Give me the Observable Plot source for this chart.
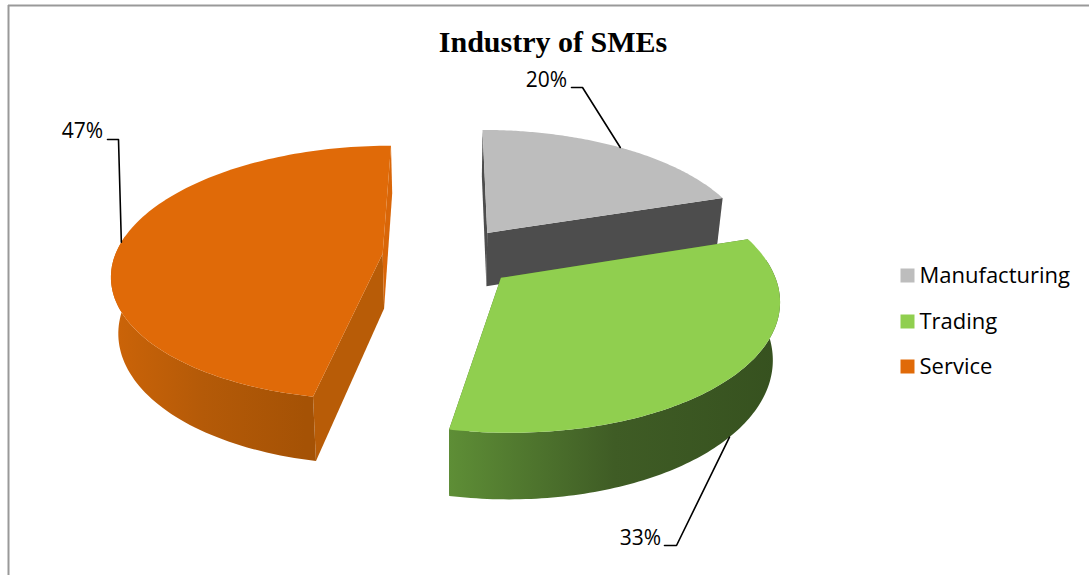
<!DOCTYPE html>
<html>
<head>
<meta charset="utf-8">
<title>Industry of SMEs</title>
<script src="https://cdn.jsdelivr.net/npm/d3@7"></script>
<script src="https://cdn.jsdelivr.net/npm/@observablehq/plot@0.6"></script>
<style>
  html, body { margin: 0; padding: 0; background: #fff; }
  svg { display: block; }
</style>
</head>
<body>
<div id="chart"></div>
<script>
// Chart values
const chartTitle = "Industry of SMEs";
const categories = ["Manufacturing", "Trading", "Service"];
const shares = [20, 33, 47];

// Slice colours: top face, inner walls, rim gradient stops
const topColors = ["#bdbdbd", "#90cf4f", "#e06a08"];
const wallColors = ["#4d4d4d", "#4a6f2a", "#b85c07"];
const rimStops = [
  [[0, "#4d4d4d"], [1, "#4d4d4d"]],
  [[0, "#5e8e36"], [0.5, "#3f5c25"], [1, "#36511f"]],
  [[0, "#cc6408"], [0.45, "#b45a08"], [0.95, "#a55205"], [1, "#a55205"]]
];

// Camera and pie geometry for the tilted, exploded pie
const W = 1089, H = 575;
const cam = {cx: 450, cy: 257, rx: 268, ry: 125, k: 0.15, depth: 55, shrink: 0.022};
const explode = 0.24;
const startAngle = 0;
const sliceNudge = [{dx: 0, dy: -1}, {dx: 1, dy: 0}, {dx: -4, dy: -1}];
// Only the part of the rim facing the viewer is drawn
const rimFacing = -0.15;

// Projects a point on the pie plane; z is 0 on the top face and 1 on the bottom face
function project(X, Y, z, nudge) {
  const s = 1 / (1 - cam.k * Y);
  const q = 1 - z * cam.shrink;
  return {
    x: cam.cx + cam.rx * X * s * q + nudge.dx,
    y: cam.cy + cam.ry * Y * s + z * cam.depth * s + nudge.dy
  };
}

// Builds the faces of every slice from its share of the total
const total = d3.sum(shares);
let running = startAngle;
const slices = shares.map((share, i) => {
  const a0 = running;
  const a1 = a0 + (share / total) * 2 * Math.PI;
  running = a1;
  const mid = (a0 + a1) / 2;
  const n = sliceNudge[i];
  const ox = Math.sin(mid) * explode, oy = -Math.cos(mid) * explode;
  const onRim = (a, z) => project(ox + Math.sin(a), oy - Math.cos(a), z, n);
  const angles = d3.range(0, 121).map((t) => a0 + (a1 - a0) * (t / 120));
  const facing = angles.filter((a) => -Math.cos(a) > rimFacing);
  const apex = project(ox, oy, 0, n), apexLow = project(ox, oy, 1, n);
  const arc = angles.map((a) => onRim(a, 0));
  const arcLow = angles.map((a) => onRim(a, 1));
  return {
    i, share, mid, onRim, apex, apexLow, arc, arcLow,
    top: [apex, ...arc],
    rim: [...facing.map((a) => onRim(a, 0)), ...facing.slice().reverse().map((a) => onRim(a, 1))],
    wallStart: [apex, arc[0], arcLow[0], apexLow],
    wallEnd: [apex, arc[120], arcLow[120], apexLow]
  };
});

// Rim gradients, referenced by the fills below
const gradients = () => {
  const defs = d3.create("svg:defs");
  rimStops.forEach((stops, i) => {
    const g = defs.append("linearGradient").attr("id", `rim-${i}`);
    stops.forEach(([offset, c]) => g.append("stop")
      .attr("offset", offset).attr("stop-color", c));
  });
  return defs.node();
};

const px = (d) => d.x, py = (d) => d.y;
const face = (points, fill) => Plot.line(points, {x: px, y: py, fill, stroke: "none"});

// Painter's order: Service first, then Manufacturing, Trading on top.
// The Service slice's end wall faces the light, so it stays close to its top colour.
const drawOrder = [2, 0, 1];
const faces = drawOrder.flatMap((i) => {
  const s = slices[i];
  return [
    face(s.wallStart, wallColors[i]),
    face(s.wallEnd, i === 2 ? "#d96608" : wallColors[i]),
    face(s.rim, `url(#rim-${i})`),
    face(s.top, topColors[i])
  ];
});

// Data-label leaders: from the slice edge to an elbow beside each label
const labelFont = "'Open Sans', Lato, sans-serif";
const labelLayout = [
  {x: 566.5, y: 80, ex: 582, ey: 87, tx: 571, low: 0},
  {x: 660.5, y: 538, ex: 676, ey: 545, tx: 664, low: 1},
  {x: 102.5, y: 131, ex: 118, ey: 139, tx: 107, low: 0}
];
const leaders = labelLayout.map((l, i) => [
  {x: l.tx, y: l.ey},
  {x: l.ex, y: l.ey},
  slices[i].onRim(slices[i].mid, l.low)
]);

const legendX = 907, legendTextX = 919;
const legendY = [275, 321, 366];

const chart = Plot.plot({
  width: W,
  height: H,
  margin: 0,
  style: {background: "#fff"},
  x: {domain: [0, W], range: [0, W], axis: null},
  y: {domain: [0, H], range: [0, H], axis: null},
  marks: [
    gradients,
    // Chart area frame
    Plot.ruleY([5], {x1: 8, x2: W, stroke: "#999", strokeWidth: 2}),
    Plot.ruleX([8], {y1: 5, y2: H, stroke: "#999", strokeWidth: 2}),
    ...faces,
    ...leaders.map((pts) => Plot.line(pts, {x: px, y: py, stroke: "#000", strokeWidth: 1.6})),
    Plot.text(shares, {
      text: (d) => `${d}%`,
      x: (d, i) => labelLayout[i].x,
      y: (d, i) => labelLayout[i].y,
      textAnchor: "end",
      fontFamily: labelFont,
      fontSize: 21,
      fill: "#000"
    }),
    Plot.text([chartTitle], {
      x: () => 552.5,
      y: () => 42,
      fontFamily: "'Liberation Serif', serif",
      fontWeight: "bold",
      fontSize: 30,
      fill: "#000"
    }),
    Plot.dot(categories, {
      x: () => legendX,
      y: (d, i) => legendY[i],
      symbol: "square",
      r: 7.9,
      fill: (d, i) => topColors[i],
      stroke: "none"
    }),
    Plot.text(categories, {
      text: (d) => d,
      x: () => legendTextX,
      y: (d, i) => legendY[i],
      textAnchor: "start",
      fontFamily: labelFont,
      fontSize: 22,
      fill: "#000"
    })
  ]
});
document.getElementById("chart").append(chart);
</script>
</body>
</html>
